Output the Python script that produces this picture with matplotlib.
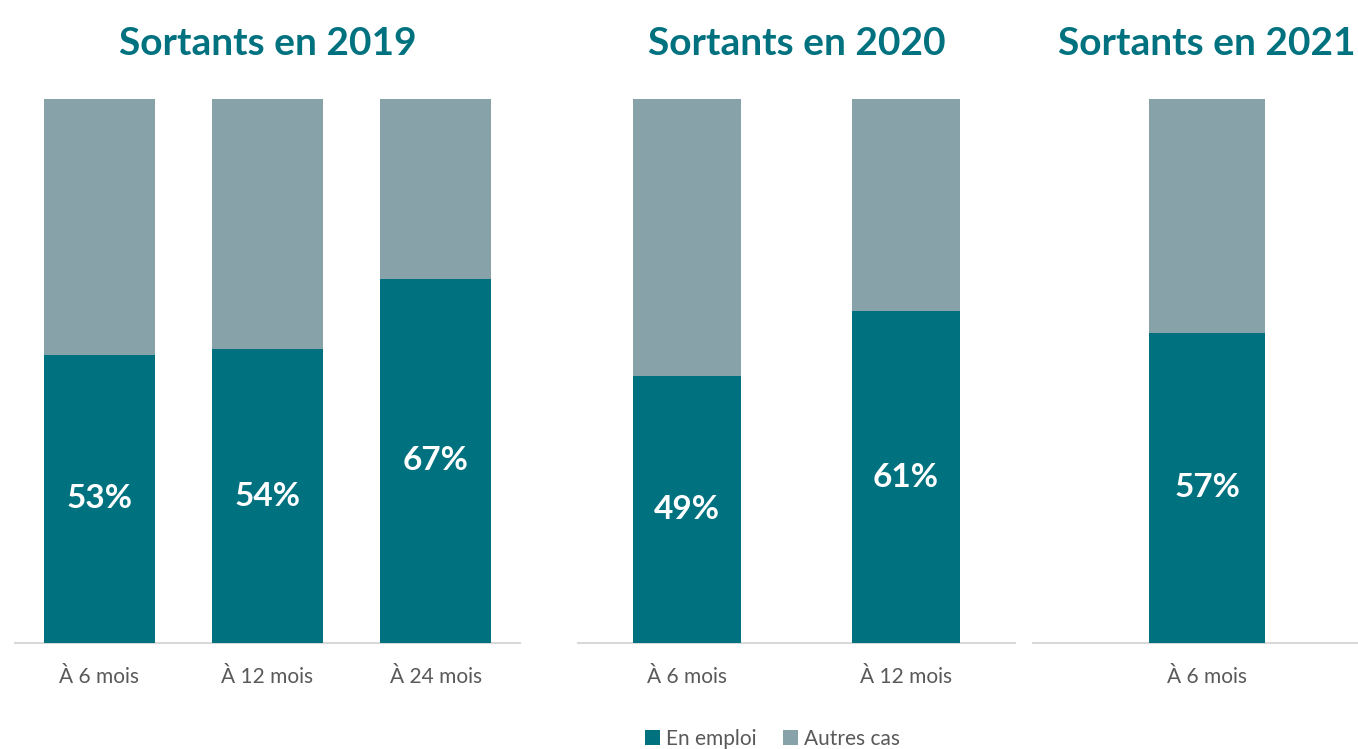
import matplotlib
matplotlib.use("Agg")
import matplotlib.pyplot as plt
from matplotlib.patches import Patch

# Share of leavers in employment, by exit cohort and delay after exit
panels = ["Sortants en 2019", "Sortants en 2020", "Sortants en 2021"]
categories_2019 = ["À 6 mois", "À 12 mois", "À 24 mois"]
categories_2020 = ["À 6 mois", "À 12 mois"]
categories_2021 = ["À 6 mois"]
emploi_2019 = [53, 54, 67]
emploi_2020 = [49, 61]
emploi_2021 = [57]
series_names = ["En emploi", "Autres cas"]

TEAL = "#00727F"
GREY = "#87A2A9"
TEXT_GREY = "#595959"
FONT = ["Lato", "DejaVu Sans"]

fig = plt.figure(figsize=(13.58, 7.49), dpi=100)

bottom, height = 0.1415, 0.7263
layout = [
    (panels[0], categories_2019, emploi_2019, 0.01105, 0.3719, 0.66),
    (panels[1], categories_2020, emploi_2020, 0.4256, 0.3218, 0.494),
    (panels[2], categories_2021, emploi_2021, 0.7607, 0.2563, 0.333),
]

for title, cats, vals, left, width, bw in layout:
    ax = fig.add_axes([left, bottom, width, height])
    x = list(range(len(cats)))
    others = [100 - v for v in vals]
    ax.bar(x, vals, width=bw, color=TEAL, zorder=2)
    ax.bar(x, others, width=bw, bottom=vals, color=GREY, zorder=2)
    for xi, v in zip(x, vals):
        ax.text(xi, v / 2, f"{v}%", ha="center", va="center", color="white",
                fontsize=24, fontweight="bold", family=FONT)
    ax.set_xlim(-0.5, len(cats) - 0.5)
    ax.set_ylim(0, 100)
    ax.set_xticks(x)
    ax.set_xticklabels(cats, fontsize=15, color=TEXT_GREY, family=FONT)
    ax.tick_params(axis="x", length=0, pad=17)
    ax.set_yticks([])
    for side in ("left", "right", "top"):
        ax.spines[side].set_visible(False)
    ax.spines["bottom"].set_color("#D9D9D9")
    ax.spines["bottom"].set_linewidth(1.5)
    ax.spines["bottom"].set_zorder(1)
    ax.set_title(title, fontsize=28, fontweight="bold", color=TEAL, family=FONT,
                 pad=32)

handles = [Patch(facecolor=TEAL), Patch(facecolor=GREY)]
fig.legend(handles, series_names, loc="center", bbox_to_anchor=(0.569, 0.014),
           ncol=2, frameon=False, handlelength=0.7, handleheight=0.7,
           handletextpad=0.3, columnspacing=1.3,
           prop={"family": FONT, "size": 15}, labelcolor=TEXT_GREY)

fig.savefig("out.png", dpi=100)
